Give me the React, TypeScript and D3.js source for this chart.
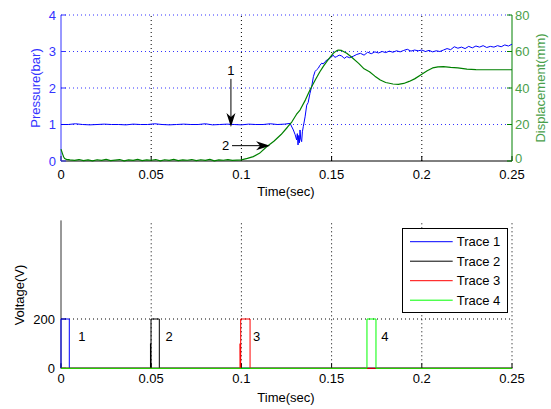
import React from "react";
import * as d3 from "d3";

// ---------- data ----------
const xTicks = [0, 0.05, 0.1, 0.15, 0.2, 0.25];
const xTickLabels = ["0", "0.05", "0.1", "0.15", "0.2", "0.25"];
const pressureTicks = [0, 1, 2, 3, 4];
const dispTicks = [0, 20, 40, 60, 80];
const voltTicks = [0, 200];

const pressureT = [
  0, 0.004, 0.008, 0.012, 0.016, 0.02, 0.024, 0.028, 0.032, 0.036, 0.04, 0.044, 0.048, 0.052, 0.056,
  0.06, 0.064, 0.068, 0.072, 0.076, 0.08, 0.084, 0.088, 0.092, 0.096, 0.1, 0.104, 0.108, 0.112,
  0.116, 0.12, 0.124, 0.127, 0.1288, 0.1298, 0.1306, 0.131, 0.1314, 0.1318, 0.1322, 0.1325, 0.1329,
  0.1334, 0.1338, 0.1343, 0.1353, 0.1362, 0.137, 0.138, 0.139, 0.1399, 0.1408, 0.1417, 0.1426,
  0.1435, 0.1445, 0.1454, 0.1463, 0.1477, 0.1491, 0.15, 0.1509, 0.1518, 0.1528, 0.1542, 0.1556,
  0.157, 0.1584, 0.16, 0.162, 0.164, 0.166, 0.168, 0.17, 0.172, 0.174, 0.176, 0.178, 0.18, 0.182,
  0.184, 0.186, 0.188, 0.19, 0.192, 0.194, 0.196, 0.198, 0.2, 0.202, 0.204, 0.206, 0.208, 0.21,
  0.212, 0.214, 0.216, 0.218, 0.22, 0.222, 0.224, 0.226, 0.228, 0.23, 0.232, 0.234, 0.236, 0.238,
  0.24, 0.242, 0.244, 0.246, 0.248, 0.25,
];
const pressureV = [
  1.0, 1.0, 1.02, 1.0, 0.99, 1.0, 1.01, 1.0, 1.0, 0.99, 1.01, 1.0, 1.0, 1.02, 1.0,
  0.99, 1.0, 1.01, 1.0, 1.0, 1.02, 0.99, 1.0, 1.01, 1.0, 0.99, 1.01, 1.0, 1.0,
  1.02, 1.0, 1.01, 1.03, 0.85, 0.72, 0.58, 0.75, 0.44, 0.7, 0.5, 0.85, 0.6,
  0.53, 0.8, 0.94, 1.21, 1.53, 1.6, 1.85, 2.05, 2.31, 2.45, 2.5, 2.54,
  2.62, 2.68, 2.66, 2.72, 2.78, 2.81, 2.86, 2.9, 2.84, 2.86, 2.9, 2.88,
  2.81, 2.86, 2.83, 2.87, 2.92, 2.95, 2.9, 2.98, 2.94, 2.99, 2.96, 3.0, 2.97, 3.01,
  2.98, 3.02, 2.99, 3.03, 3.06, 3.01, 3.04, 3.02, 3.04, 3.0, 3.03, 2.99, 3.02, 3.0,
  3.04, 3.08, 3.05, 3.13, 3.09, 3.12, 3.08, 3.14, 3.1, 3.15, 3.12, 3.16, 3.11, 3.14,
  3.12, 3.16, 3.13, 3.18, 3.15, 3.2,
];

const dispT = [
  0, 0.0005, 0.001, 0.0015, 0.002, 0.003, 0.005, 0.0075, 0.01, 0.0125, 0.015, 0.0175, 0.02, 0.0225,
  0.025, 0.0275, 0.03, 0.0325, 0.035, 0.0375, 0.04, 0.0425, 0.045, 0.0475, 0.05, 0.0525, 0.055,
  0.0575, 0.06, 0.0625, 0.065, 0.0675, 0.07, 0.0725, 0.075, 0.0775, 0.08, 0.0825, 0.085, 0.0875,
  0.09, 0.0925, 0.095, 0.0975, 0.1, 0.1033, 0.1066, 0.11, 0.114, 0.118, 0.122, 0.1255, 0.128,
  0.1305, 0.1325, 0.1355, 0.138, 0.141, 0.1435, 0.1455, 0.1473, 0.149, 0.1509, 0.1525, 0.1537,
  0.1555, 0.1584, 0.161, 0.165, 0.168, 0.171, 0.174, 0.177, 0.18, 0.184, 0.187, 0.19, 0.193, 0.196,
  0.2, 0.203, 0.206, 0.209, 0.212, 0.216, 0.22, 0.225, 0.23, 0.24, 0.25,
];
const dispV = [
  6.5, 5.0, 3.5, 2.2, 1.4, 0.9, 0.6, 0.3, 0.8, 0.2, 0.6, 0.1, 0.7, 0.3,
  0.9, 0.2, 0.5, 0.8, 0.1, 0.6, 0.3, 0.9, 0.2, 0.6, 0.4, 0.8, 0.1,
  0.7, 0.3, 0.9, 0.2, 0.6, 0.4, 0.8, 0.2, 0.7, 0.3, 0.9, 0.1, 0.6,
  0.4, 0.8, 0.3, 0.5, 0.6, 1.4, 2.4, 4.2, 7.8, 10.8, 14.5, 18.5, 21.5,
  25.5, 27.9, 33.5, 38.9, 44.5, 48.9, 52.0, 54.4, 56.6, 59.0, 60.2, 60.8,
  60.6, 59.0, 57.0, 53.5, 50.5, 48.9, 46.5, 44.4, 43.0, 42.2, 42.0, 42.5, 43.6, 45.0,
  47.5, 49.5, 51.0, 51.6, 51.7, 51.3, 51.0, 50.3, 50.1, 50.0, 50.0,
];

const traceNames = ["Trace 1", "Trace 2", "Trace 3", "Trace 4"];
const traceColors = ["#0000ff", "#000000", "#ff0000", "#00ff00"];
const trace1T = [0, 0, 0.0046, 0.0046, 0.25];
const trace1V = [0, 200, 200, 0, 0];
const trace2T = [0, 0.0496, 0.0496, 0.0497, 0.0499, 0.0499, 0.0545, 0.0545, 0.25];
const trace2V = [0, 0, 100, 0, 0, 200, 200, 0, 0];
const trace3T = [0, 0.0993, 0.0993, 0.0994, 0.0996, 0.0996, 0.1048, 0.1048, 0.25];
const trace3V = [0, 0, 100, 0, 0, 200, 200, 0, 0];
const trace4T = [0, 0.1696, 0.1696, 0.1746, 0.1746, 0.25];
const trace4V = [0, 0, 200, 200, 0, 0];
const traceT = [trace1T, trace2T, trace3T, trace4T];
const traceV = [trace1V, trace2V, trace3V, trace4V];
const pulseLabels = ["1", "2", "3", "4"];
const pulseLabelT = [0.0115, 0.06, 0.1085, 0.1795];
const pulseLabelV = 127;

// ---------- layout ----------
const W = 551;
const H = 409;
const FONT = "'Liberation Sans', Arial, Helvetica, sans-serif";
const FS = 13;
const BLUE = "#0000ff";
const AXBLUE = "#3333ff";
const GREEN = "#008000";
const LGREEN = "#4aa04a";

const x = d3.scaleLinear().domain([0, 0.25]).range([61, 512]);
const yP = d3.scaleLinear().domain([0, 4]).range([161, 15]);
const yD = d3.scaleLinear().domain([0, 80]).range([161, 15]);
const yV = d3.scaleLinear().domain([0, 600]).range([368.3, 220.4]);

function Arrow({ x1, y1, x2, y2 }: { x1: number; y1: number; x2: number; y2: number }) {
  const ang = Math.atan2(y2 - y1, x2 - x1);
  const L = 14;
  const hw = 4.5;
  const notch = 4;
  const c = Math.cos(ang);
  const s = Math.sin(ang);
  const bx = x2 - L * c;
  const by = y2 - L * s;
  const pts = [
    [x2, y2],
    [bx - hw * s, by + hw * c],
    [x2 - (L - notch) * c, y2 - (L - notch) * s],
    [bx + hw * s, by - hw * c],
  ];
  return (
    <g>
      <line x1={x1} y1={y1} x2={x2 - (L - notch) * c} y2={y2 - (L - notch) * s} stroke="#000" strokeWidth={1} />
      <polygon points={pts.map((p) => p.join(",")).join(" ")} fill="#000" />
    </g>
  );
}

export default function App() {
  const lineP = d3
    .line<number>()
    .x((_, i) => x(pressureT[i]))
    .y((v) => yP(v));
  const lineD = d3
    .line<number>()
    .x((_, i) => x(dispT[i]))
    .y((v) => yD(v));

  const gridX = xTicks.slice(1, 5);

  return (
    <svg width={W} height={H} style={{ position: "absolute", left: 0, top: 0, background: "#fff" }} fontFamily={FONT} fontSize={FS}>
      <rect x={0} y={0} width={W} height={H} fill="#fff" />
      {/* ---------- TOP PANEL ---------- */}
      {pressureTicks.slice(1).map((t) => (
        <line key={"hg" + t} x1={x(0)} x2={x(0.25)} y1={yP(t)} y2={yP(t)} stroke={AXBLUE} strokeDasharray="1,3" strokeWidth={1} />
      ))}
      {gridX.map((t) => (
        <line key={"vg" + t} x1={x(t)} x2={x(t)} y1={yP(0)} y2={yP(4)} stroke="#000" strokeDasharray="1,3" strokeWidth={1} />
      ))}
      <line x1={x(0)} x2={x(0.25)} y1={yP(0)} y2={yP(0)} stroke="#000" />
      {xTicks.map((t, i) => (
        <g key={"xt" + t}>
          <line x1={x(t)} x2={x(t)} y1={yP(0)} y2={yP(0) - 5} stroke="#000" />
          <text x={x(t)} y={174} textAnchor="middle" dominantBaseline="central" fill="#000">
            {xTickLabels[i]}
          </text>
        </g>
      ))}
      <text x={286} y={191} textAnchor="middle" dominantBaseline="central" fill="#000">
        Time(sec)
      </text>
      <line x1={x(0)} x2={x(0)} y1={yP(0)} y2={yP(4)} stroke={AXBLUE} />
      {pressureTicks.map((t) => (
        <g key={"yp" + t}>
          <line x1={x(0)} x2={x(0) + 5} y1={yP(t)} y2={yP(t)} stroke={AXBLUE} />
          <text x={56} y={yP(t)} textAnchor="end" dominantBaseline="central" fill={AXBLUE}>
            {t}
          </text>
        </g>
      ))}
      <text transform={`translate(35,88) rotate(-90)`} textAnchor="middle" dominantBaseline="central" fill={AXBLUE}>
        Pressure(bar)
      </text>
      <line x1={x(0.25)} x2={x(0.25)} y1={yD(0)} y2={yD(80)} stroke={GREEN} />
      {dispTicks.map((t) => (
        <g key={"yd" + t}>
          <line x1={x(0.25)} x2={x(0.25) - 5} y1={yD(t)} y2={yD(t)} stroke={GREEN} />
          <text x={515} y={yD(t) - (t === 0 ? 3 : 0)} textAnchor="start" dominantBaseline="central" fill={LGREEN}>
            {t}
          </text>
        </g>
      ))}
      <text transform={`translate(540,88) rotate(-90)`} textAnchor="middle" dominantBaseline="central" fill={LGREEN}>
        Displacement(mm)
      </text>
      <path d={lineP(pressureV) || ""} fill="none" stroke={BLUE} strokeWidth={1} strokeLinejoin="round" />
      <path d={lineD(dispV) || ""} fill="none" stroke={GREEN} strokeWidth={1.2} strokeLinejoin="round" />
      <Arrow x1={x(0.0942)} y1={yP(2.25)} x2={x(0.0942)} y2={yP(0.93)} />
      <text x={x(0.0942)} y={yP(2.49)} textAnchor="middle" dominantBaseline="central" fill="#000">
        1
      </text>
      <Arrow x1={x(0.0948)} y1={yP(0.42)} x2={x(0.1159)} y2={yP(0.42)} />
      <text x={x(0.0913)} y={yP(0.42)} textAnchor="middle" dominantBaseline="central" fill="#000">
        2
      </text>

      {/* ---------- BOTTOM PANEL ---------- */}
      {voltTicks.slice(1).map((t) => (
        <line key={"vhg" + t} x1={x(0)} x2={x(0.25)} y1={yV(t)} y2={yV(t)} stroke="#000" strokeDasharray="1,3" />
      ))}
      {xTicks.slice(1).map((t) => (
        <line key={"vvg" + t} x1={x(t)} x2={x(t)} y1={yV(0)} y2={yV(600)} stroke="#000" strokeDasharray="1,3" />
      ))}
      <line x1={x(0)} x2={x(0.25)} y1={yV(0)} y2={yV(0)} stroke="#000" />
      <line x1={x(0)} x2={x(0)} y1={yV(0)} y2={yV(600)} stroke="#333" />
      {xTicks.map((t, i) => (
        <g key={"bxt" + t}>
          <line x1={x(t)} x2={x(t)} y1={yV(0)} y2={yV(0) - 5} stroke="#000" />
          <text x={x(t)} y={378} textAnchor="middle" dominantBaseline="central" fill="#000">
            {xTickLabels[i]}
          </text>
        </g>
      ))}
      {voltTicks.map((t) => (
        <g key={"vt" + t}>
          <line x1={x(0)} x2={x(0) + 5} y1={yV(t)} y2={yV(t)} stroke="#000" />
          <text x={55} y={yV(t)} textAnchor="end" dominantBaseline="central" fill="#000">
            {t}
          </text>
        </g>
      ))}
      <text x={286} y={397} textAnchor="middle" dominantBaseline="central" fill="#000">
        Time(sec)
      </text>
      <text transform={`translate(19,295) rotate(-90)`} textAnchor="middle" dominantBaseline="central" fill="#000">
        Voltage(V)
      </text>
      {traceT.map((ts, k) => {
        const ln = d3
          .line<number>()
          .x((_, i) => x(ts[i]))
          .y((v) => yV(v));
        return <path key={"tr" + k} d={ln(traceV[k]) || ""} fill="none" stroke={traceColors[k]} strokeWidth={1} />;
      })}
      {pulseLabels.map((l, i) => (
        <text key={"pl" + l} x={x(pulseLabelT[i])} y={yV(pulseLabelV)} textAnchor="middle" dominantBaseline="central" fill="#000">
          {l}
        </text>
      ))}
      <rect x={402.5} y={228.5} width={105} height={84} fill="#fff" stroke="#000" strokeWidth={1} />
      {traceNames.map((n, i) => {
        const yy = 241.7 + i * 19.5;
        return (
          <g key={n}>
            <line x1={410} x2={452.7} y1={yy} y2={yy} stroke={traceColors[i]} strokeWidth={1} />
            <text x={456.7} y={yy} dominantBaseline="central" fill="#000">
              {n}
            </text>
          </g>
        );
      })}
    </svg>
  );
}
